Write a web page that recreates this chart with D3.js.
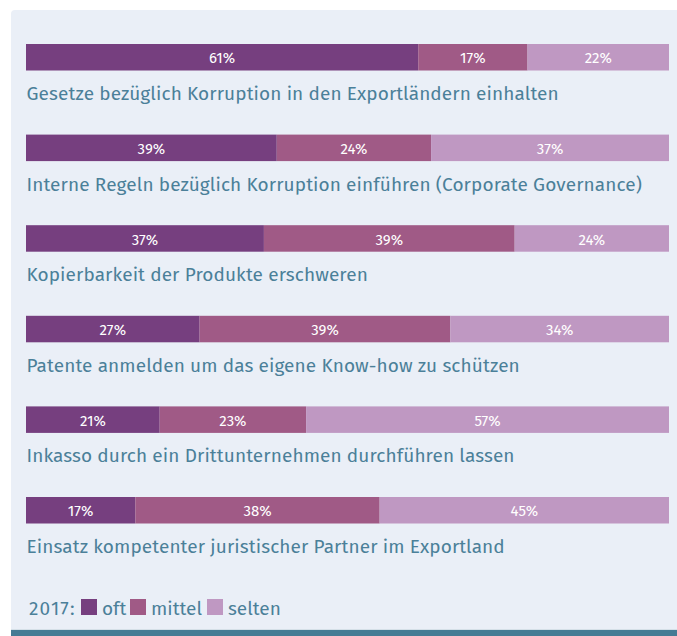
<!DOCTYPE html>
<html>
<head>
<meta charset="utf-8">
<script src="https://cdn.jsdelivr.net/npm/d3@7"></script>
<style>
  body { margin: 0; background: #fff; }
  svg { display: block; }
</style>
</head>
<body>
<div id="chart"></div>
<script>
// data
var categories = [
    "Gesetze bezüglich Korruption in den Exportländern einhalten",
    "Interne Regeln bezüglich Korruption einführen (Corporate Governance)",
    "Kopierbarkeit der Produkte erschweren",
    "Patente anmelden um das eigene Know-how zu schützen",
    "Inkasso durch ein Drittunternehmen durchführen lassen",
    "Einsatz kompetenter juristischer Partner im Exportland"
];
var oft    = [61, 39, 37, 27, 21, 17];
var mittel = [17, 24, 39, 39, 23, 38];
var selten = [22, 37, 24, 34, 57, 45];
var seriesNames = ["oft", "mittel", "selten"];
var legendTitle = "2017:";

function init() {
    var w = 677, h = 636;
    var colors = ["#763f7f", "#a05a86", "#bf98c2"];
    var textColor = "#4b8099";
    var font = "'Fira Sans', 'Noto Sans', sans-serif";

    var svg = d3.select("#chart").append("svg")
        .attr("width", w).attr("height", h);

    // panel background
    svg.append("rect")
        .attr("x", 11).attr("y", 10)
        .attr("width", w + 20).attr("height", 640)
        .attr("rx", 4)
        .attr("fill", "#eaeff7");
    svg.append("rect")
        .attr("x", 11).attr("y", 629)
        .attr("width", w).attr("height", 1)
        .attr("fill", "#d5e0e8");
    svg.append("rect")
        .attr("x", 11).attr("y", 630)
        .attr("width", w).attr("height", 6)
        .attr("fill", "#457b94");

    var table = categories.map(function(c, i) {
        return { cat: c, oft: oft[i], mittel: mittel[i], selten: selten[i] };
    });

    var stack = d3.stack().keys(seriesNames).offset(d3.stackOffsetExpand);
    var layers = stack(table);

    var x = d3.scaleLinear().domain([0, 1]).range([26, 669]);
    var y = d3.scaleBand().domain(categories).range([44, 44 + 6 * 90.6]);
    var barH = 26.5;

    var groups = svg.selectAll("g.layer")
        .data(layers)
        .enter().append("g")
        .attr("class", "layer")
        .attr("fill", function(d, i) { return colors[i]; });

    groups.selectAll("rect")
        .data(function(d) { return d; })
        .enter().append("rect")
        .attr("x", function(d) { return x(d[0]); })
        .attr("y", function(d) { return y(d.data.cat); })
        .attr("width", function(d) { return x(d[1]) - x(d[0]); })
        .attr("height", barH);

    // value labels inside segments
    groups.each(function(layer) {
        d3.select(this).selectAll("text")
            .data(layer)
            .enter().append("text")
            .attr("x", function(d) { return (x(d[0]) + x(d[1])) / 2; })
            .attr("y", function(d) { return y(d.data.cat) + 19.3; })
            .attr("text-anchor", "middle")
            .attr("fill", "#fff")
            .style("font-family", font)
            .style("font-size", "15px")
            .text(function(d) { return d.data[layer.key] + "%"; });
    });

    // category labels under bars
    svg.selectAll("text.cat")
        .data(categories)
        .enter().append("text")
        .attr("class", "cat")
        .attr("x", 26.5)
        .attr("y", function(d) { return y(d) + 56; })
        .attr("fill", textColor)
        .style("font-family", font)
        .style("font-size", "19px")
        .style("letter-spacing", "0.1px")
        .text(function(d) { return d; });

    // legend
    var legend = svg.append("g").attr("transform", "translate(29,615)");
    legend.append("text")
        .attr("x", 0).attr("y", 0)
        .attr("fill", textColor)
        .style("font-family", font)
        .style("font-size", "19px")
        .style("letter-spacing", "1.2px")
        .text(legendTitle);
    var legendX = [52, 101, 178];
    seriesNames.forEach(function(s, i) {
        legend.append("rect")
            .attr("x", legendX[i]).attr("y", -16)
            .attr("width", 16).attr("height", 16)
            .attr("fill", colors[i]);
        legend.append("text")
            .attr("x", legendX[i] + 21).attr("y", 0)
            .attr("fill", textColor)
            .style("font-family", font)
            .style("font-size", "19px")
            .text(s);
    });
}

window.onload = init;
</script>
</body>
</html>
